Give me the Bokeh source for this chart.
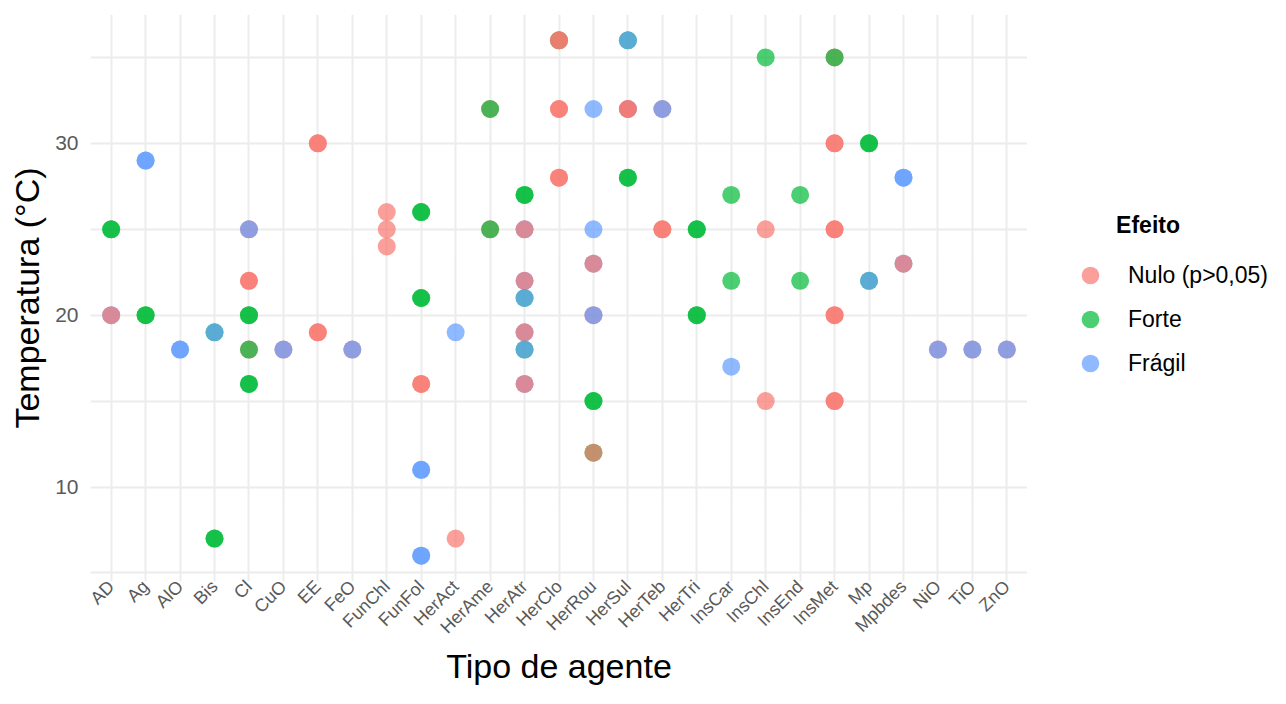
from bokeh.plotting import figure
from bokeh.layouts import row
from bokeh.models import (FactorRange, Range1d, FixedTicker, Legend, LegendItem,
                          ColumnDataSource)
from bokeh.transform import factor_cmap
from bokeh.embed import file_html
from bokeh.resources import INLINE

categories = ["AD", "Ag", "AlO", "Bis", "Cl", "CuO", "EE", "FeO", "FunChl", "FunFol",
              "HerAct", "HerAme", "HerAtr", "HerClo", "HerRou", "HerSul", "HerTeb",
              "HerTri", "InsCar", "InsChl", "InsEnd", "InsMet", "Mp", "Mpbdes",
              "NiO", "TiO", "ZnO"]
effects = ["Nulo (p>0,05)", "Forte", "Frágil"]
palette = ["#F8766D", "#00BA38", "#619CFF"]
y_ticks = [10, 20, 30]
y_minor = [5, 15, 25, 35]

# observations in drawing order (overlapping points blend like the original)
agent = (["AD", "AD", "AD", "AD", "Ag", "Ag", "Ag", "Ag", "AlO", "AlO",
          "Bis", "Bis", "Bis", "Bis",
          "Cl", "Cl", "Cl", "Cl", "Cl", "Cl", "Cl", "Cl", "Cl", "Cl",
          "CuO", "CuO", "EE", "EE", "EE", "EE", "FeO", "FeO",
          "FunChl", "FunChl", "FunChl",
          "FunFol", "FunFol", "FunFol", "FunFol", "FunFol", "FunFol", "FunFol", "FunFol", "FunFol", "FunFol",
          "HerAct", "HerAct",
          "HerAme", "HerAme", "HerAme", "HerAme",
          "HerAtr", "HerAtr", "HerAtr", "HerAtr", "HerAtr", "HerAtr", "HerAtr", "HerAtr",
          "HerAtr", "HerAtr", "HerAtr", "HerAtr", "HerAtr", "HerAtr",
          "HerClo", "HerClo", "HerClo", "HerClo", "HerClo", "HerClo", "HerClo",
          "HerRou", "HerRou", "HerRou", "HerRou", "HerRou", "HerRou", "HerRou", "HerRou", "HerRou", "HerRou",
          "HerSul", "HerSul", "HerSul", "HerSul", "HerSul", "HerSul", "HerSul",
          "HerTeb", "HerTeb", "HerTeb", "HerTeb",
          "HerTri", "HerTri", "HerTri", "HerTri",
          "InsCar", "InsCar", "InsCar",
          "InsChl", "InsChl", "InsChl",
          "InsEnd", "InsEnd",
          "InsMet", "InsMet", "InsMet", "InsMet", "InsMet", "InsMet", "InsMet", "InsMet", "InsMet", "InsMet",
          "Mp", "Mp", "Mp", "Mp",
          "Mpbdes", "Mpbdes", "Mpbdes", "Mpbdes",
          "NiO", "NiO", "TiO", "TiO", "ZnO", "ZnO"])
temperature = ([25, 25, 20, 20, 29, 29, 20, 20, 18, 18,
                19, 19, 7, 7,
                25, 25, 22, 22, 20, 20, 18, 18, 16, 16,
                18, 18, 30, 30, 19, 19, 18, 18,
                26, 25, 24,
                26, 26, 21, 21, 16, 16, 11, 11, 6, 6,
                19, 7,
                32, 32, 25, 25,
                27, 27, 25, 25, 22, 22, 21, 21, 19, 19, 18, 18, 16, 16,
                36, 36, 36, 32, 32, 28, 28,
                32, 25, 23, 23, 20, 20, 15, 15, 12, 12,
                36, 36, 32, 32, 32, 28, 28,
                32, 32, 25, 25,
                25, 25, 20, 20,
                27, 22, 17,
                35, 25, 15,
                27, 22,
                35, 35, 30, 30, 25, 25, 20, 20, 15, 15,
                30, 30, 22, 22,
                28, 28, 23, 23,
                18, 18, 18, 18, 18, 18])
effect = (["Forte", "Forte", "Frágil", "Nulo (p>0,05)", "Frágil", "Frágil", "Forte", "Forte", "Frágil", "Frágil",
           "Forte", "Frágil", "Forte", "Forte",
           "Nulo (p>0,05)", "Frágil", "Nulo (p>0,05)", "Nulo (p>0,05)", "Forte", "Forte",
           "Nulo (p>0,05)", "Forte", "Forte", "Forte",
           "Nulo (p>0,05)", "Frágil", "Nulo (p>0,05)", "Nulo (p>0,05)", "Nulo (p>0,05)", "Nulo (p>0,05)",
           "Nulo (p>0,05)", "Frágil",
           "Nulo (p>0,05)", "Nulo (p>0,05)", "Nulo (p>0,05)",
           "Forte", "Forte", "Forte", "Forte", "Nulo (p>0,05)", "Nulo (p>0,05)", "Frágil", "Frágil", "Frágil", "Frágil",
           "Frágil", "Nulo (p>0,05)",
           "Nulo (p>0,05)", "Forte", "Nulo (p>0,05)", "Forte",
           "Forte", "Forte", "Frágil", "Nulo (p>0,05)", "Frágil", "Nulo (p>0,05)", "Forte", "Frágil",
           "Frágil", "Nulo (p>0,05)", "Forte", "Frágil", "Frágil", "Nulo (p>0,05)",
           "Forte", "Nulo (p>0,05)", "Nulo (p>0,05)", "Nulo (p>0,05)", "Nulo (p>0,05)", "Nulo (p>0,05)", "Nulo (p>0,05)",
           "Frágil", "Frágil", "Frágil", "Nulo (p>0,05)", "Nulo (p>0,05)", "Frágil", "Forte", "Forte", "Forte", "Nulo (p>0,05)",
           "Forte", "Frágil", "Frágil", "Nulo (p>0,05)", "Nulo (p>0,05)", "Forte", "Forte",
           "Nulo (p>0,05)", "Frágil", "Nulo (p>0,05)", "Nulo (p>0,05)",
           "Forte", "Forte", "Forte", "Forte",
           "Forte", "Forte", "Frágil",
           "Forte", "Nulo (p>0,05)", "Nulo (p>0,05)",
           "Forte", "Forte",
           "Nulo (p>0,05)", "Forte", "Nulo (p>0,05)", "Nulo (p>0,05)", "Nulo (p>0,05)", "Nulo (p>0,05)",
           "Nulo (p>0,05)", "Nulo (p>0,05)", "Nulo (p>0,05)", "Nulo (p>0,05)",
           "Forte", "Forte", "Forte", "Frágil",
           "Frágil", "Frágil", "Frágil", "Nulo (p>0,05)",
           "Nulo (p>0,05)", "Frágil", "Nulo (p>0,05)", "Frágil", "Nulo (p>0,05)", "Frágil"])

FONT = "Liberation Sans"

source = ColumnDataSource(dict(agent=agent, temperature=temperature, effect=effect))
cmap = factor_cmap("effect", palette, effects)

p = figure(width=1027, height=688, output_backend="svg", toolbar_location=None,
           x_range=FactorRange(factors=categories, range_padding=0.1,
                               range_padding_units="absolute"),
           y_range=Range1d(4.5, 37.5),
           min_border_left=90, min_border_right=0, min_border_top=14,
           min_border_bottom=105)
p.outline_line_color = None
p.background_fill_color = "white"
p.border_fill_color = "white"

r = p.scatter(x="agent", y="temperature", source=source, size=18,
              fill_color=cmap, fill_alpha=0.7, line_alpha=0)

p.yaxis.ticker = FixedTicker(ticks=y_ticks, minor_ticks=y_minor)
for ax in (p.xaxis[0], p.yaxis[0]):
    ax.axis_line_color = None
    ax.major_tick_line_color = None
    ax.minor_tick_line_color = None
    ax.major_tick_out = 0
    ax.major_tick_in = 0
    ax.minor_tick_out = 0
    ax.minor_tick_in = 0
    ax.major_label_text_font = FONT
    ax.major_label_text_color = "#5a5a5a"
    ax.axis_label_text_font = FONT
    ax.axis_label_text_font_style = "normal"
    ax.axis_label_text_color = "black"
    ax.axis_label_text_font_size = "34px"

p.yaxis.axis_label = "Temperatura (°C)"
p.yaxis.major_label_text_font_size = "21px"
p.yaxis.major_label_standoff = 12
p.yaxis.axis_label_standoff = 6

p.xaxis.axis_label = "Tipo de agente"
p.xaxis.major_label_text_font_size = "18px"
p.xaxis.major_label_orientation = 0.785
p.xaxis.major_label_standoff = 2
p.xaxis.axis_label_standoff = 0

p.xgrid.grid_line_color = "#ececec"
p.xgrid.grid_line_width = 2
p.ygrid.grid_line_color = "#ececec"
p.ygrid.grid_line_width = 2
p.ygrid.minor_grid_line_color = "#ececec"
p.ygrid.minor_grid_line_width = 2

# legend panel: same data and colour mapping, points fall outside its view
lg = figure(width=243, height=688, output_backend="svg", toolbar_location=None,
            x_range=FactorRange(factors=categories), y_range=Range1d(1000, 1001),
            min_border_left=0, min_border_right=0, min_border_top=0,
            min_border_bottom=0)
lg.axis.visible = False
lg.grid.visible = False
lg.outline_line_color = None
lg.border_fill_color = "white"
lr = lg.scatter(x="agent", y="temperature", source=source, size=18,
                fill_color=cmap, fill_alpha=0.7, line_alpha=0)

items = [LegendItem(label=e, renderers=[lr], index=effect.index(e)) for e in effects]
legend = Legend(items=items, location=(38, 196), padding=0, margin=0,
                border_line_color=None, background_fill_alpha=0,
                title="\u00a0" * 8 + "Efeito",
                title_text_font=FONT, title_text_font_size="23px",
                title_text_font_style="bold", title_standoff=14,
                title_text_color="black",
                label_text_font=FONT, label_text_font_size="23px",
                label_text_color="black", glyph_width=50, glyph_height=44,
                label_height=44, label_standoff=13, spacing=0)
lg.add_layout(legend, "center")

layout = row(p, lg, spacing=0)
open("out.html", "w").write(file_html(layout, INLINE))
